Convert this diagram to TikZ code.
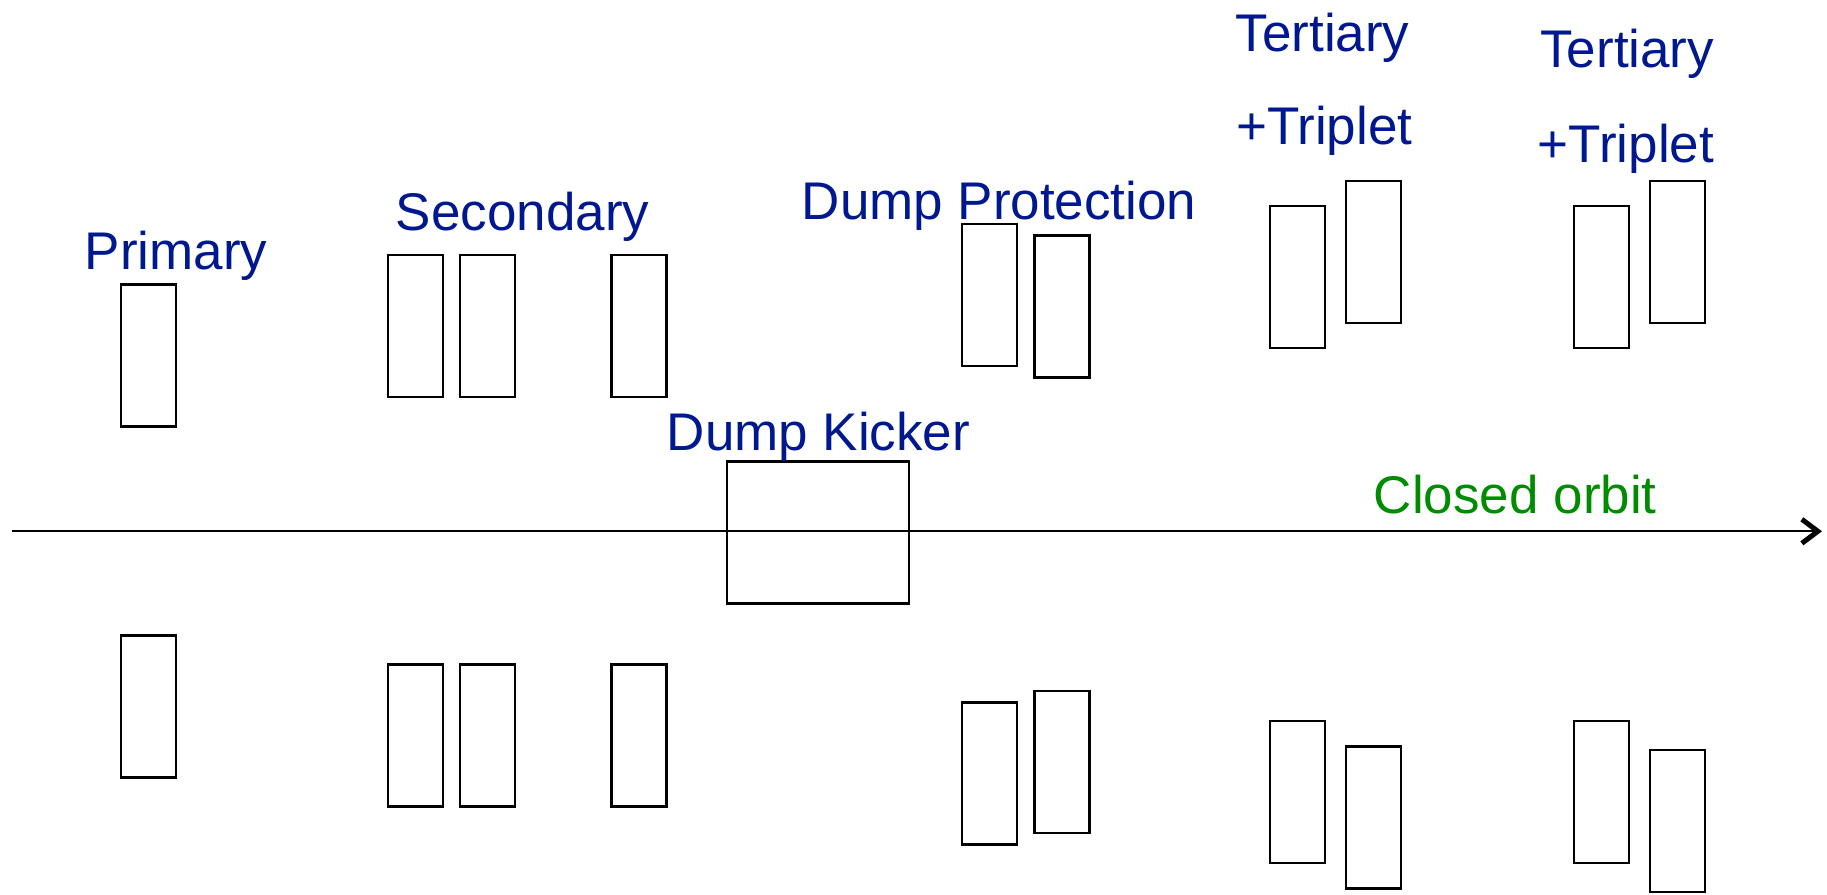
\documentclass[tikz,border=0pt]{standalone}
\usepackage{fontspec}
\setmainfont{Liberation Sans}
\usetikzlibrary{arrows.meta}
\definecolor{lblblue}{RGB}{0,24,143}
\definecolor{lblgreen}{RGB}{0,140,0}
\tikzset{
  coll/.style={draw=black, line width=2.3pt, minimum width=55pt, minimum height=142pt, inner sep=0pt, outer sep=0pt},
  kicker/.style={draw=black, line width=2.3pt, minimum width=182pt, minimum height=142pt, inner sep=0pt, outer sep=0pt},
  lbl/.style={text=lblblue, anchor=base, inner sep=0pt, font=\fontsize{53}{60}\selectfont},
  glbl/.style={text=lblgreen, anchor=base, inner sep=0pt, font=\fontsize{53}{60}\selectfont},
  orbit/.style={line width=2.3pt, -{Straight Barb[length=16pt,width=24pt,line width=5pt]}}
}
\begin{document}
\begin{tikzpicture}[x=1pt,y=-1pt]
\useasboundingbox (0,0) rectangle (1827,894);
% closed orbit
\coordinate (orbitStart) at (11.7,531.3);
\coordinate (orbitEnd) at (1822,531.3);
\draw[orbit] (orbitStart) -- (orbitEnd);
% Primary
\node[coll] (p1t) at (148.5,355.4) {};
\node[coll] (p1b) at (148.5,706.5) {};
% Secondary
\node[coll] (s1t) at (415.4,326.2) {};
\node[coll] (s2t) at (487.6,326.2) {};
\node[coll] (s3t) at (639.1,326.2) {};
\node[coll] (s1b) at (415.4,735.5) {};
\node[coll] (s2b) at (487.6,735.5) {};
\node[coll] (s3b) at (639.1,735.5) {};
% Dump kicker
\node[kicker] (dk) at (818,532.5) {};
% Dump protection
\node[coll] (d1t) at (989.8,294.8) {};
\node[coll] (d2t) at (1062.1,306.4) {};
\node[coll] (d1b) at (989.8,773.5) {};
\node[coll] (d2b) at (1062.1,762) {};
% Tertiary 1
\node[coll] (t1t) at (1297.4,277.3) {};
\node[coll] (t2t) at (1373.2,251.7) {};
\node[coll] (t1b) at (1297.4,791.8) {};
\node[coll] (t2b) at (1373.2,817.5) {};
% Tertiary 2
\node[coll] (u1t) at (1601.5,277.3) {};
\node[coll] (u2t) at (1677.3,251.7) {};
\node[coll] (u1b) at (1601.5,791.8) {};
\node[coll] (u2b) at (1677.3,820.8) {};
% labels
\node[lbl] (lp) at (176,269) {Primary};
\node[lbl] (ls) at (522.6,230) {Secondary};
\node[lbl] (lk) at (818.5,450.5) {Dump Kicker};
\node[lbl] (ld) at (999.1,219) {Dump Protection};
\node[lbl] (lt1a) at (1322.5,51) {Tertiary};
\node[lbl] (lt1b) at (1324.2,144.5) {+Triplet};
\node[lbl] (lt2a) at (1627.2,67.5) {Tertiary};
\node[lbl] (lt2b) at (1626,162) {+Triplet};
\node[glbl] (lo) at (1515.3,513.5) {Closed orbit};
\end{tikzpicture}
\end{document}
